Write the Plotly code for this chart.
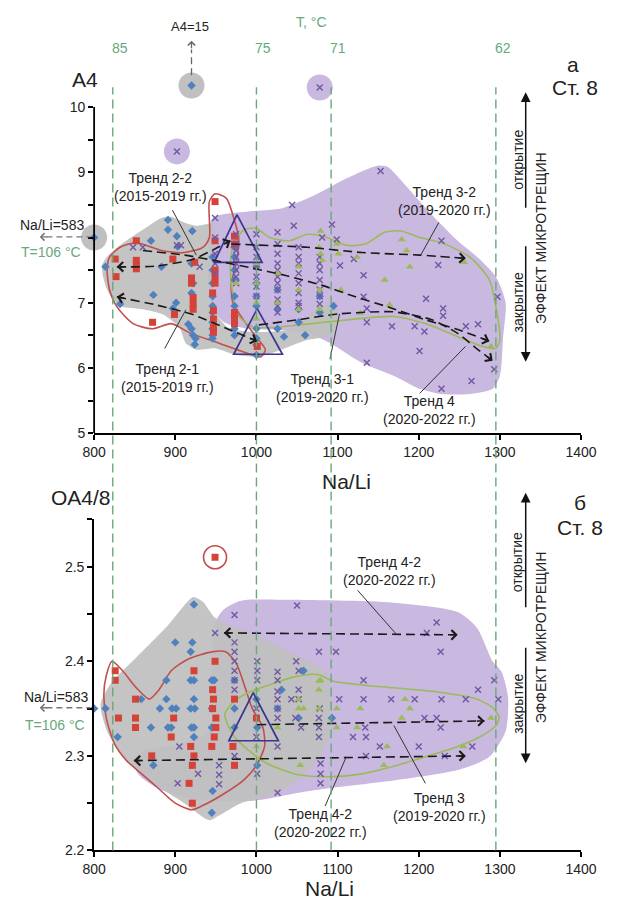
import math
import plotly.graph_objects as go

W, H = 620, 913
FONT = "Liberation Sans, Arial, sans-serif"

# ---------------- shared ----------------
X_TICKS = [800, 900, 1000, 1100, 1200, 1300, 1400]
ISO_T = ["85", "75", "71", "62"]
ISO_NALI = [823, 1000, 1092, 1295]

# ---------------- panel a : A4 vs Na/Li ----------------
A_TICKS = [5, 5.5, 6, 6.5, 7, 7.5, 8, 8.5, 9, 9.5, 10]
A_TICKTEXT = ["5", "", "6", "", "7", "", "", "", "9", "", "10"]

A_BLUE = [(800, 8.0), (814, 7.55), (832, 6.98), (870, 7.95), (873, 7.12), (883, 7.55), (891, 8.27),
          (891, 8.12), (897, 6.91), (901, 7.0), (902, 8.02), (903, 7.86), (916, 6.67), (921, 8.1),
          (920, 7.6), (922, 7.3), (920, 7.15), (920, 6.6), (922, 6.5), (925, 6.45), (924, 6.36),
          (946, 7.7), (946, 7.5), (946, 7.3), (946, 7.1), (946, 6.95), (946, 6.85), (946, 6.7),
          (946, 6.6), (946, 6.5), (946, 6.45), (973, 7.85), (973, 7.7), (973, 7.5), (973, 7.35),
          (973, 7.1), (973, 6.95), (973, 6.8), (973, 6.6), (973, 6.5), (1000, 7.55), (1000, 7.3),
          (1000, 7.1), (1000, 6.95), (1000, 6.6), (1000, 6.45), (1000, 6.35), (1000, 6.2),
          (1026, 7.2), (1026, 6.9), (1026, 6.6), (1034, 6.48), (1052, 6.9), (1052, 6.7), (1060, 6.5),
          (1078, 6.85), (1078, 7.1), (1095, 6.95), (920, 10.33)]
A_RED = [(826, 7.67), (827, 7.4), (852, 7.95), (852, 7.65), (852, 7.58), (852, 7.52), (872, 6.7),
         (897, 7.67), (899, 6.82), (924, 7.62), (920, 7.38), (920, 7.3), (922, 7.08), (922, 6.98),
         (922, 6.9), (949, 8.55), (949, 7.95), (949, 7.5), (949, 7.4), (949, 7.3), (946, 7.15),
         (947, 6.88), (947, 6.75), (947, 6.62), (947, 6.55), (973, 8.02), (973, 7.9), (973, 6.85),
         (973, 6.75), (973, 6.68), (1001, 6.33)]
A_GREEN = [(975, 7.3), (1000, 7.6), (1000, 7.3), (1000, 7.0), (1000, 6.75), (1026, 7.45), (1026, 7.0),
           (1052, 7.55), (1052, 7.2), (1052, 6.9), (1079, 8.1), (1079, 7.75), (1081, 7.65), (1077, 7.85),
           (1099, 7.9), (1101, 7.75), (1124, 7.7), (1128, 6.84), (1158, 7.35), (1164, 6.97), (1179, 7.97),
           (1185, 7.8), (1189, 7.55), (1256, 7.62), (1289, 6.33), (1078, 7.2), (1078, 6.9), (1104, 7.2)]
A_PURPLE = [(848, 7.85), (860, 7.85), (902, 7.88), (907, 7.88), (930, 7.55), (902, 9.32), (1078, 10.3),
            (949, 8.3), (949, 8.0), (949, 7.75), (949, 7.6), (949, 7.45), (975, 8.05), (975, 7.9),
            (975, 7.8), (975, 7.7), (975, 7.6), (975, 7.5), (975, 7.4), (975, 7.3), (1000, 8.05),
            (1000, 7.85), (1000, 7.7), (1000, 7.55), (1000, 7.4), (1000, 7.25), (1000, 7.1), (1026, 8.08),
            (1026, 7.9), (1026, 7.75), (1026, 7.6), (1026, 7.5), (1026, 7.4), (1026, 7.3), (1026, 7.2),
            (1026, 7.05), (1026, 6.95), (1026, 6.85), (1044, 8.5), (1046, 8.18), (1052, 7.85), (1052, 7.7),
            (1052, 7.6), (1052, 7.45), (1052, 7.3), (1052, 7.15), (1052, 7.0), (1052, 6.95), (1078, 7.7),
            (1078, 7.6), (1078, 7.5), (1078, 7.35), (1078, 7.2), (1078, 7.1), (1078, 6.98), (1081, 8.0),
            (1093, 8.2), (1099, 7.97), (1103, 7.57), (1120, 7.67), (1132, 7.42), (1132, 7.09), (1136, 6.91),
            (1136, 6.7), (1136, 6.08), (1153, 9.02), (1167, 6.64), (1195, 6.64), (1201, 6.26), (1207, 6.56),
            (1209, 7.06), (1224, 7.58), (1228, 7.95), (1228, 5.68), (1230, 6.91), (1230, 6.8), (1258, 6.64),
            (1265, 5.8), (1273, 6.67), (1293, 5.98), (1297, 7.09)]
A_OUT_GRAY = [(920, 10.33), (800, 8.0)]
A_OUT_LAV = [(902, 9.32), (1078, 10.3)]

A_LAV_REGION = [(946, 8.3), (990, 8.4), (1032, 8.45), (1072, 8.65), (1110, 8.9), (1149, 9.1), (1162, 9.08),
                (1175, 8.92), (1216, 8.35), (1248, 7.95), (1272, 7.7), (1295, 7.4), (1307, 7.0), (1304, 6.48),
                (1300, 5.88), (1291, 5.68), (1263, 5.6), (1228, 5.6), (1201, 5.68), (1169, 5.88), (1130, 6.08),
                (1091, 6.38), (1064, 6.53), (1030, 6.58), (990, 6.6), (960, 6.7), (945, 6.95), (940, 7.4),
                (941, 7.9)]
A_GRAY_REGION = [(810, 7.58), (817, 7.72), (836, 7.92), (860, 8.12), (883, 8.3), (895, 8.32), (911, 8.23),
                 (926, 8.18), (946, 8.2), (946, 7.5), (948, 6.9), (965, 6.62), (1000, 6.55), (1050, 6.62),
                 (1075, 6.92), (1092, 6.98), (1102, 6.78), (1095, 6.52), (1060, 6.42), (1035, 6.3),
                 (1005, 6.18), (975, 6.2), (950, 6.3), (926, 6.28), (913, 6.38), (905, 6.62), (885, 6.82),
                 (860, 6.9), (832, 6.95), (818, 7.15), (811, 7.4)]
A_RED_REGION = [(816, 7.5), (819, 7.7), (832, 7.85), (852, 7.92), (883, 7.8), (911, 7.77), (934, 7.85),
                (942, 8.0), (942, 8.55), (949, 8.67), (963, 8.6), (972, 8.3), (978, 8.0), (975, 7.6),
                (969, 7.3), (971, 7.0), (985, 6.72), (1000, 6.47), (1011, 6.28), (1005, 6.17), (981, 6.26),
                (954, 6.38), (919, 6.53), (895, 6.68), (872, 6.6), (848, 6.68), (828, 6.94), (819, 7.2)]
A_GREEN_REGION = [(972, 7.9), (985, 8.12), (1000, 8.14), (1016, 8.0), (1040, 7.95), (1063, 8.05),
                  (1087, 8.0), (1111, 7.88), (1134, 7.9), (1158, 8.08), (1178, 8.1), (1201, 8.0), (1228, 7.92),
                  (1263, 7.7), (1287, 7.35), (1295, 6.94), (1300, 6.44), (1295, 6.3), (1279, 6.33),
                  (1248, 6.48), (1208, 6.68), (1169, 6.79), (1130, 6.76), (1091, 6.71), (1052, 6.66),
                  (1020, 6.62), (995, 6.63), (978, 6.8), (970, 7.2), (968, 7.6)]
A_TRIANGLES = [[(976, 8.35), (948, 7.62), (1007, 7.62)],
               [(1001, 6.91), (972, 6.21), (1032, 6.21)]]

A_TRENDS = [  # points, head at start, head at end
    ([(828, 7.55), (875, 7.56), (920, 7.66), (945, 7.8), (968, 7.95)], True, True),
    ([(828, 7.09), (875, 6.97), (919, 6.83), (966, 6.59), (1001, 6.41)], True, True),
    ([(969, 7.9), (1063, 7.85), (1130, 7.77), (1201, 7.73), (1258, 7.68)], False, True),
    ([(860, 7.8), (911, 7.73), (960, 7.62), (995, 7.53), (1035, 7.42), (1080, 7.27), (1122, 7.09),
      (1166, 6.92), (1208, 6.74), (1248, 6.59), (1287, 6.41)], False, True),
    ([(1003, 6.66), (1052, 6.74), (1102, 6.83), (1169, 6.86), (1216, 6.74), (1248, 6.53), (1272, 6.29),
      (1291, 6.11)], False, True),
]
A_LABELS = [("Тренд 2-2<br>(2015-2019 гг.)", 882, 8.77),
            ("Тренд 2-1<br>(2015-2019 гг.)", 891, 5.85),
            ("Тренд 3-1<br>(2019-2020 гг.)", 1081, 5.70),
            ("Тренд 3-2<br>(2019-2020 гг.)", 1232, 8.56),
            ("Тренд 4<br>(2020-2022 гг.)", 1213, 5.35)]
A_LEADERS = [[(896.5, 8.42), (925.9, 7.73)], [(887, 6.30), (913, 6.89)], [(1090.6, 6.14), (1102.4, 6.83)],
             [(1224.7, 8.23), (1202.4, 7.73)], [(1201.2, 5.61), (1257.6, 6.33)]]

# ---------------- panel b : OA4/8 vs Na/Li ----------------
B_TICKS = [2.2, 2.25, 2.3, 2.35, 2.4, 2.45, 2.5, 2.55]
B_TICKTEXT = ["2.2", "", "2.3", "", "2.4", "", "2.5", ""]

B_BLUE = [(800, 2.35), (814, 2.35), (829, 2.32), (858, 2.36), (870, 2.33), (873, 2.29), (881, 2.35),
          (889, 2.38), (889, 2.36), (891, 2.33), (895, 2.33), (896, 2.35), (900, 2.42), (901, 2.35),
          (919, 2.41), (921, 2.42), (923, 2.46), (919, 2.38), (923, 2.38), (923, 2.36), (919, 2.35),
          (924, 2.35), (920, 2.33), (923, 2.33), (923, 2.32), (945, 2.38), (948, 2.38), (945, 2.35),
          (945, 2.33), (946, 2.263), (945, 2.24), (973, 2.38), (973, 2.35), (973, 2.33), (1001, 2.33),
          (1001, 2.29), (1031, 2.37), (1058, 2.39), (1093, 2.34), (1026, 2.35), (1052, 2.34), (1000, 2.36)]
B_RED = [(826, 2.39), (826, 2.38), (851, 2.36), (830, 2.34), (851, 2.34), (851, 2.33), (871, 2.30),
         (898, 2.34), (895, 2.32), (923, 2.39), (919, 2.31), (923, 2.30), (921, 2.29), (917, 2.271),
         (921, 2.25), (949, 2.51), (949, 2.40), (946, 2.37), (947, 2.36), (946, 2.35), (950, 2.34),
         (950, 2.33), (948, 2.32), (945, 2.31), (973, 2.36), (971, 2.31), (973, 2.29), (1000, 2.34)]
B_PURPLE = [(903, 2.271), (905, 2.31), (928, 2.281), (949, 2.43), (954, 2.29), (954, 2.28), (954, 2.27),
            (973, 2.449), (973, 2.42), (973, 2.41), (973, 2.40), (973, 2.39), (973, 2.38), (973, 2.37),
            (973, 2.30), (1001, 2.40), (1001, 2.39), (1001, 2.38), (1001, 2.281), (1026, 2.389),
            (1026, 2.38), (1026, 2.368), (1026, 2.36), (1026, 2.35), (1026, 2.34), (1026, 2.261),
            (1043, 2.36), (1048, 2.34), (1049, 2.40), (1050, 2.459), (1052, 2.39), (1052, 2.37),
            (1055, 2.33), (1077, 2.41), (1077, 2.34), (1077, 2.33), (1077, 2.32), (1078, 2.35),
            (1079, 2.292), (1079, 2.281), (1079, 2.271), (1098, 2.41), (1102, 2.36), (1119, 2.32),
            (1132, 2.38), (1132, 2.36), (1134, 2.33), (1135, 2.32), (1135, 2.30), (1152, 2.31),
            (1166, 2.36), (1195, 2.36), (1200, 2.31), (1207, 2.34), (1210, 2.43), (1222, 2.441),
            (1222, 2.34), (1227, 2.41), (1227, 2.33), (1228, 2.36), (1232, 2.30), (1258, 2.36),
            (1266, 2.31), (1273, 2.37), (1293, 2.38), (1298, 2.36), (1052, 2.36), (1000, 2.35),
            (1000, 2.32), (1026, 2.31)]
B_GREEN = [(1052, 2.36), (1052, 2.35), (1054, 2.29), (1058, 2.35), (1077, 2.379), (1077, 2.37),
           (1077, 2.35), (1079, 2.38), (1099, 2.35), (1099, 2.33), (1124, 2.33), (1128, 2.35),
           (1157, 2.29), (1161, 2.31), (1179, 2.34), (1183, 2.36), (1189, 2.35), (1255, 2.31),
           (1289, 2.34), (1000, 2.37), (1026, 2.33), (1000, 2.31)]
B_OUT_RED = [(949, 2.51)]

B_LAV_REGION = [(949, 2.441), (960, 2.455), (981, 2.464), (1032, 2.465), (1169, 2.462), (1248, 2.452),
                (1272, 2.435), (1291, 2.40), (1302, 2.389), (1310, 2.362), (1307, 2.326), (1287, 2.299),
                (1248, 2.285), (1169, 2.274), (1091, 2.266), (1052, 2.261), (1001, 2.253), (960, 2.252),
                (920, 2.255), (880, 2.265), (855, 2.28), (848, 2.295), (860, 2.305), (900, 2.312),
                (935, 2.322), (947, 2.34), (945, 2.38), (946, 2.42)]
B_GRAY_REGION = [(808, 2.355), (822, 2.378), (852, 2.404), (891, 2.438), (912, 2.46), (922, 2.468),
                 (934, 2.463), (949, 2.446), (970, 2.437), (993, 2.43), (1040, 2.41), (1087, 2.386),
                 (1092, 2.35), (1090, 2.32), (1070, 2.29), (1040, 2.268), (1013, 2.257), (981, 2.25),
                 (954, 2.237), (942, 2.232), (911, 2.25), (875, 2.27), (835, 2.3), (816, 2.326)]
B_RED_REGION = [(822, 2.400), (835, 2.39), (852, 2.372), (868, 2.36), (880, 2.37), (895, 2.39),
                (915, 2.402), (945, 2.41), (962, 2.41), (975, 2.398), (985, 2.375), (995, 2.35),
                (1008, 2.33), (1010, 2.31), (1000, 2.29), (985, 2.275), (960, 2.26), (935, 2.248),
                (920, 2.243), (900, 2.25), (880, 2.265), (860, 2.28), (840, 2.295), (825, 2.313),
                (815, 2.34), (812, 2.365), (815, 2.385)]
B_GREEN_REGION = [(961, 2.344), (973, 2.358), (993, 2.368), (1016, 2.375), (1044, 2.383), (1075, 2.386),
                  (1095, 2.379), (1130, 2.375), (1169, 2.372), (1228, 2.367), (1272, 2.36), (1291, 2.351),
                  (1299, 2.341), (1295, 2.332), (1275, 2.32), (1248, 2.31), (1208, 2.299), (1169, 2.289),
                  (1130, 2.281), (1091, 2.278), (1052, 2.28), (1013, 2.292), (996, 2.302), (973, 2.32)]
B_TRIANGLES = [[(996, 2.367), (966, 2.316), (1027, 2.316)]]
B_TRENDS = [
    ([(960, 2.43), (1248, 2.428)], True, True),
    ([(849, 2.295), (1258, 2.30)], True, True),
    ([(1001, 2.333), (1281, 2.337)], False, True),
]
B_LABELS = [("Тренд 4-2<br>(2020-2022 гг.)", 1163.5, 2.495),
            ("Тренд 4-2<br>(2020-2022 гг.)", 1079, 2.229),
            ("Тренд 3<br>(2019-2020 гг.)", 1225, 2.246)]
B_LEADERS = [[(1124.7, 2.475), (1173, 2.428)], [(1084.7, 2.247), (1110.6, 2.299)],
             [(1208.2, 2.271), (1169.4, 2.332)]]

# ---------------- colours ----------------
LAV = "rgb(201,184,223)"
GRAY = "rgb(192,192,192)"
RED_LINE = "rgb(192,80,77)"
GREEN_LINE = "rgb(155,187,89)"
BLUE = "rgb(79,129,189)"
RED = "rgb(212,66,56)"
PURPLE = "rgb(112,88,163)"
GREEN = "rgb(155,187,89)"
TRI = "rgb(58,54,140)"
ISO = "rgb(104,168,122)"
TXT = "#222222"

# ---------------- layout geometry (pixels) ----------------
L_PX, R_PX = 86, 596
A_TOP, A_BOT = 108, 437          # pixel rows of A4 = 10 and A4 = 5
A_YMAX = 10.45                    # room above the axis for off-scale points
B_TOP, B_BOT = 524, 858
SX = (R_PX - L_PX) / 600.0
SY_A = (A_BOT - A_TOP) / 5.0
SY_B = (B_BOT - B_TOP) / 0.35
A_DOM_TOP = A_BOT - (A_YMAX - 5) * SY_A


def P(xp, yp):
    return dict(x=xp / W, y=1 - yp / H, xref="paper", yref="paper")


def xs(pts):
    return [p[0] for p in pts]


def ys(pts):
    return [p[1] for p in pts]


fig = go.Figure()
annotations = []
shapes = []


def add_region(pts, xa, ya, fill=None, line=None, lw=1.6, opacity=1.0):
    closed = pts + pts[:1]
    fig.add_trace(go.Scatter(
        x=xs(closed), y=ys(closed), xaxis=xa, yaxis=ya, mode="lines",
        fill="toself" if fill else "none", fillcolor=fill,
        line=dict(color=line if line else "rgba(0,0,0,0)", width=lw if line else 0,
                  shape="spline", smoothing=0.7),
        opacity=opacity, hoverinfo="skip", showlegend=False))


def add_points(pts, xa, ya, symbol, size, color, lw=0):
    marker = dict(symbol=symbol, size=size, color=color)
    if "open" in symbol or "thin" in symbol:
        marker["line"] = dict(color=color, width=lw)
    else:
        marker["line"] = dict(width=0)
    fig.add_trace(go.Scatter(x=xs(pts), y=ys(pts), xaxis=xa, yaxis=ya, mode="markers",
                             marker=marker, cliponaxis=False, showlegend=False, hoverinfo="skip"))


def head(tip, prev, xa, ya, sy):
    dx = (tip[0] - prev[0]) * SX
    dy = -(tip[1] - prev[1]) * sy
    n = math.hypot(dx, dy) or 1.0
    L = 9.0
    annotations.append(dict(x=tip[0], y=tip[1], xref=xa, yref=ya, ax=-dx / n * L, ay=-dy / n * L,
                            text="", showarrow=True, arrowhead=4, arrowsize=1.25, arrowwidth=1.5,
                            arrowcolor="#1a1a1a", standoff=0))


def add_panel(xa, ya, sy, lav, gray, red_r, green_r, blue, red, purple, green, tris, trends,
              labels, leaders, out_gray=(), out_lav=(), out_red=()):
    add_region(lav, xa, ya, fill=LAV)
    add_region(gray, xa, ya, fill=GRAY, opacity=0.93)
    if out_gray:
        add_points(list(out_gray), xa, ya, "circle", 26, GRAY)
    if out_lav:
        add_points(list(out_lav), xa, ya, "circle", 26, LAV)
    add_region(red_r, xa, ya, line=RED_LINE, lw=1.6)
    add_region(green_r, xa, ya, line=GREEN_LINE, lw=1.6)
    if out_red:
        add_points(list(out_red), xa, ya, "circle-open", 23, RED_LINE, lw=1.6)
    add_points(blue, xa, ya, "diamond", 6.5, BLUE)
    add_points(red, xa, ya, "square", 7, RED)
    add_points(purple, xa, ya, "x-thin-open", 6, PURPLE, lw=1.4)
    add_points(green, xa, ya, "triangle-up", 7, GREEN)
    for t in tris:
        c = t + t[:1]
        fig.add_trace(go.Scatter(x=xs(c), y=ys(c), xaxis=xa, yaxis=ya, mode="lines",
                                 line=dict(color=TRI, width=1.7), hoverinfo="skip", showlegend=False))
    for pts, h0, h1 in trends:
        fig.add_trace(go.Scatter(x=xs(pts), y=ys(pts), xaxis=xa, yaxis=ya, mode="lines",
                                 line=dict(color="#1a1a1a", width=1.6, dash="9px,5px", shape="spline",
                                           smoothing=0.6),
                                 hoverinfo="skip", showlegend=False))
        if h1:
            head(pts[-1], pts[-2], xa, ya, sy)
        if h0:
            head(pts[0], pts[1], xa, ya, sy)
    for ld in leaders:
        fig.add_trace(go.Scatter(x=xs(ld), y=ys(ld), xaxis=xa, yaxis=ya, mode="lines",
                                 line=dict(color="#333333", width=1.0), hoverinfo="skip", showlegend=False))
    for txt, x, y in labels:
        annotations.append(dict(x=x, y=y, xref=xa, yref=ya, text=txt, showarrow=False,
                                xanchor="center", yanchor="middle",
                                font=dict(family=FONT, size=14, color=TXT), align="center"))


add_panel("x", "y", SY_A, A_LAV_REGION, A_GRAY_REGION, A_RED_REGION, A_GREEN_REGION,
          A_BLUE, A_RED, A_PURPLE, A_GREEN, A_TRIANGLES, A_TRENDS, A_LABELS, A_LEADERS,
          out_gray=A_OUT_GRAY, out_lav=A_OUT_LAV)
add_panel("x2", "y2", SY_B, B_LAV_REGION, B_GRAY_REGION, B_RED_REGION, B_GREEN_REGION,
          B_BLUE, B_RED, B_PURPLE, B_GREEN, B_TRIANGLES, B_TRENDS, B_LABELS, B_LEADERS,
          out_red=B_OUT_RED)

# isotherm lines spanning both panels, with temperature labels
for t, v in zip(ISO_T, ISO_NALI):
    shapes.append(dict(type="line", xref="x", yref="paper", x0=v, x1=v, y0=1 - 858 / H, y1=1 - 88 / H,
                       line=dict(color=ISO, width=1.4, dash="9px,5px"), layer="above"))
    annotations.append(dict(x=v, y=1 - 48 / H, xref="x", yref="paper", text=t, showarrow=False,
                            xshift=7, xanchor="center", yanchor="middle",
                            font=dict(family=FONT, size=14, color=ISO)))

# A4 axis line drawn only over the labelled span 5..10
shapes.append(dict(type="line", xref="paper", yref="y", x0=L_PX / W, x1=L_PX / W, y0=5, y1=10,
                   line=dict(color="black", width=1.8)))


def text(s, xp, yp, size=14, color=TXT, angle=0, **kw):
    d = P(xp, yp)
    d.update(text=s, showarrow=False, font=dict(family=FONT, size=size, color=color), textangle=angle,
             xanchor="center", yanchor="middle")
    d.update(kw)
    annotations.append(d)


text("T, °C", 314, 22, color=ISO)
text("A4=15", 186, 27, size=13)
text("A4", 76, 80, size=21)
text("а", 588, 65, size=21)
text("Ст. 8", 590, 88, size=21)
text("Na/Li", 350, 486, size=21)
text("OA4/8", 72, 502, size=21)
text("б", 595, 507, size=21)
text("Ст. 8", 595, 532, size=21)
text("Na/Li", 333, 896, size=21)
text("Na/Li=583", 42, 227)
text("T=106 °C", 41, 254, color=ISO)
text("Na/Li=583", 46, 703)
text("T=106 °C", 45, 731, color=ISO)

# right-side micro-fracture effect indicators
for top_y, up_tail, dn_tail, dn_tip, ot_y, zk_y, ef_y in [(93, 210, 248, 365, 161, 305, 240),
                                                           (497, 613, 653, 770, 567, 710, 643)]:
    a = P(538, top_y)
    a.update(ax=0, ay=up_tail - top_y, text="", showarrow=True, arrowhead=2, arrowsize=1.3,
             arrowwidth=1.5, arrowcolor="#111", standoff=0)
    annotations.append(a)
    a = P(538, dn_tip)
    a.update(ax=0, ay=dn_tail - dn_tip, text="", showarrow=True, arrowhead=2, arrowsize=1.3,
             arrowwidth=1.5, arrowcolor="#111", standoff=0)
    annotations.append(a)
    text("открытие", 529, ot_y, angle=-90)
    text("закрытие", 530, zk_y, angle=-90)
    text("ЭФФЕКТ МИКРОТРЕЩИН", 554, ef_y, angle=-90)

# small gray pointers for off-scale points
for yv in (239, 714):
    shapes.append(dict(type="line", xref="paper", yref="paper", x0=36 / W, x1=82 / W,
                       y0=1 - yv / H, y1=1 - yv / H, line=dict(color="#777", width=1.3, dash="6px,4px")))
    a = P(29, yv)
    a.update(ax=9, ay=0, text="", showarrow=True, arrowhead=4, arrowsize=1.1, arrowwidth=1.3,
             arrowcolor="#777", standoff=0)
    annotations.append(a)
shapes.append(dict(type="line", xref="paper", yref="paper", x0=188 / W, x1=188 / W,
                   y0=1 - 76 / H, y1=1 - 50 / H, line=dict(color="#666", width=1.3, dash="7px,4px")))
a = P(188, 41)
a.update(ax=0, ay=9, text="", showarrow=True, arrowhead=4, arrowsize=1.1, arrowwidth=1.3,
         arrowcolor="#666", standoff=0)
annotations.append(a)

axis_common = dict(showgrid=False, zeroline=False, linecolor="black", linewidth=1.8,
                   ticks="outside", ticklen=5, tickwidth=1.5, tickcolor="black",
                   tickfont=dict(family=FONT, size=14, color=TXT))
xdom = [L_PX / W, R_PX / W]
fig.update_layout(
    width=W, height=H, margin=dict(l=0, r=0, t=0, b=0),
    paper_bgcolor="white", plot_bgcolor="white", showlegend=False,
    xaxis=dict(domain=xdom, range=[800, 1400], anchor="y", tickvals=X_TICKS, showline=True,
               **axis_common),
    yaxis=dict(domain=[1 - A_BOT / H, 1 - A_DOM_TOP / H], range=[5, A_YMAX], anchor="x",
               tickvals=A_TICKS, ticktext=A_TICKTEXT, showline=False, **axis_common),
    xaxis2=dict(domain=xdom, range=[800, 1400], anchor="y2", tickvals=X_TICKS, showline=True,
                **axis_common),
    yaxis2=dict(domain=[1 - B_BOT / H, 1 - B_TOP / H], range=[2.2, 2.55], anchor="x2",
                tickvals=B_TICKS, ticktext=B_TICKTEXT, showline=True, **axis_common),
    annotations=annotations, shapes=shapes,
    font=dict(family=FONT),
)

fig.write_html("out.html")
